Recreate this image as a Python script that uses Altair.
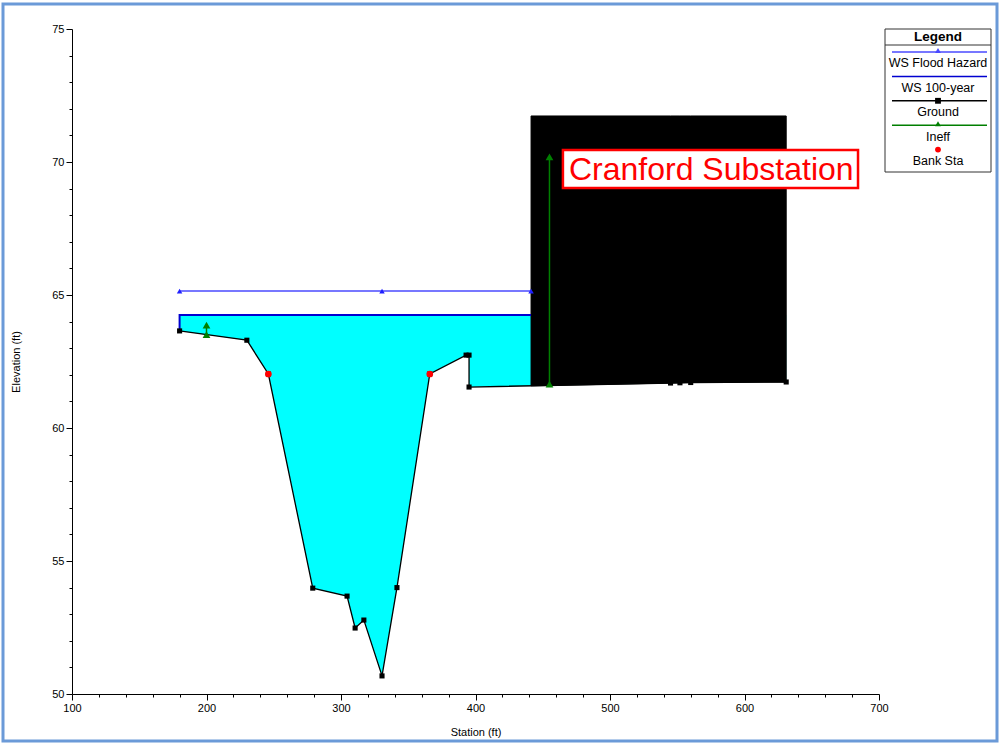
import altair as alt
import numpy as np
import pandas as pd

# ---- Cross section data (station ft, elevation ft) ----
ground_sta = [180, 230, 246, 279, 304.5, 310.5, 317, 330.5, 341.6, 366, 393, 395.2, 395.2, 545, 552, 560, 631]
ground_elev = [63.65, 63.3, 62.03, 53.98, 53.68, 52.48, 52.78, 50.68, 54.0, 62.03, 62.74, 62.74, 61.54, 61.69, 61.70, 61.71, 61.73]

bank_sta = [246, 366]
bank_elev = [62.03, 62.03]

ws100_elev = 64.25
ws100_sta = [180, 441.3]

hazard_elev = 65.15
hazard_sta = [180, 330.5, 441.3]

ineff_sta = [200, 455]
ineff_low = [63.51, 61.65]
ineff_high = [63.87, 70.19]

# blocked obstruction (substation pad)
obs_left, obs_right, obs_top = 441.3, 631, 71.73

label_text = "Cranford Substation"
label_sta, label_elev = 469.5, 69.32
label_box = dict(x=465, x2=684.4, y=69.02, y2=70.45)

legend_names = ["WS Flood Hazard", "WS 100-year", "Ground", "Ineff", "Bank Sta"]
legend_colors = ["#4a4aff", "#0000d0", "#000000", "#007f00", "#ff0000"]
legend_shapes = ["triangle-up", "", "square", "triangle-up", "circle"]
legend_has_line = [True, True, True, True, False]

FONT = "Liberation Sans"
W, H = 807, 665
LEFT, TOP = 72, 29

xscale = alt.Scale(domain=[100, 700], nice=False, zero=False)
yscale = alt.Scale(domain=[50, 75], nice=False, zero=False)

xaxis = alt.Axis(
    title="Station (ft)", values=list(range(100, 701, 20)),
    labelExpr="datum.value % 100 === 0 ? datum.label : ''",
    tickSize={"condition": {"test": "datum.value % 100 === 0", "value": 6}, "value": 3},
    grid=False, labelPadding=2, titlePadding=13, labelFlush=False,
)
yaxis = alt.Axis(
    title="Elevation (ft)", values=list(range(50, 76, 1)),
    labelExpr="datum.value % 5 === 0 ? datum.label : ''",
    tickSize={"condition": {"test": "datum.value % 5 === 0", "value": 6}, "value": 3},
    grid=False, labelPadding=2, titlePadding=30, labelFlush=False,
)

X = lambda f="station": alt.X(f"{f}:Q", scale=xscale, axis=xaxis)
Y = lambda f="elev": alt.Y(f"{f}:Q", scale=yscale, axis=yaxis)

ground = pd.DataFrame({"station": ground_sta, "elev": ground_elev, "i": range(len(ground_sta))})

# water between ground and 100-year WS; the obstruction is painted over it
water = ground.assign(top=ws100_elev)
water_layer = alt.Chart(water).mark_area(color="#00ffff", opacity=1, interpolate="linear").encode(
    x=X(), y=Y(), y2="top:Q")

# obstruction outline follows the ground underneath it
gs = np.array(ground_sta, dtype=float)
ge = np.array(ground_elev, dtype=float)
obs_x = [obs_left] + [s for s in ground_sta if obs_left < s <= obs_right]
obs_base = [float(np.interp(obs_left, gs[12:], ge[12:]))] + [e for s, e in zip(ground_sta, ground_elev) if obs_left < s <= obs_right]
obs = pd.DataFrame({"station": obs_x, "elev": obs_base, "top": obs_top})
obs_layer = alt.Chart(obs).mark_area(color="#000000", stroke="#000000", strokeWidth=1, opacity=1).encode(
    x=X(), y=Y(), y2="top:Q")

hazard = pd.DataFrame({"station": hazard_sta, "elev": hazard_elev})
hazard_line = alt.Chart(hazard).mark_line(color="#4a4aff", strokeWidth=1.5).encode(x=X(), y=Y())
hazard_pts = alt.Chart(hazard).mark_point(shape="triangle-up", filled=True, size=30, color="#2020ff", opacity=1).encode(x=X(), y=Y())

ws100 = pd.DataFrame({"station": [ws100_sta[0]] + ws100_sta, "elev": [ground_elev[0], ws100_elev, ws100_elev], "i": [0, 1, 2]})
ws100_line = alt.Chart(ws100).mark_line(color="#0000d0", strokeWidth=2).encode(x=X(), y=Y(), order="i:Q")

ground_line = alt.Chart(ground).mark_line(color="#000000", strokeWidth=1.3).encode(x=X(), y=Y(), order="i:Q")
ground_pts = alt.Chart(ground).mark_point(shape="square", filled=True, size=26, color="#000000", opacity=1).encode(x=X(), y=Y())

bank = pd.DataFrame({"station": bank_sta, "elev": bank_elev})
bank_pts = alt.Chart(bank).mark_point(shape="circle", filled=True, size=45, color="#ff0000", opacity=1).encode(x=X(), y=Y())

ineff = pd.DataFrame({"station": ineff_sta, "elev": ineff_low, "high": ineff_high})
ineff_rule = alt.Chart(ineff).mark_rule(color="#007f00", strokeWidth=1.5).encode(x=X(), y=Y(), y2="high:Q")
ineff_ends = pd.DataFrame({"station": ineff_sta * 2, "elev": ineff_low + ineff_high})
ineff_pts = alt.Chart(ineff_ends).mark_point(shape="triangle-up", filled=True, size=60, color="#007f00", opacity=1).encode(x=X(), y=Y())

box = pd.DataFrame([label_box])
label_rect = alt.Chart(box).mark_rect(fill="#ffffff", stroke="#ff0000", strokeWidth=2.5).encode(
    x=alt.X("x:Q", scale=xscale, axis=xaxis), x2="x2:Q", y=alt.Y("y:Q", scale=yscale, axis=yaxis), y2="y2:Q")
label = alt.Chart(pd.DataFrame({"station": [label_sta], "elev": [label_elev], "t": [label_text]})).mark_text(
    align="left", baseline="alphabetic", font=FONT, fontSize=32, color="#ff0000").encode(x=X(), y=Y(), text="t:N")

# ---- legend panel (pixel layout, relative to plot origin) ----
lg_left, lg_right, lg_top, lg_bottom = 885 - LEFT, 991 - LEFT, 29 - TOP, 172 - TOP
lg_cx = (lg_left + lg_right) / 2
row_step = 24.4
rows = pd.DataFrame({
    "name": legend_names, "color": legend_colors, "shape": legend_shapes, "has_line": legend_has_line,
    "ly": [52 - TOP + k * row_step for k in range(5)],
})
rows["ty"] = rows["ly"] + 11.3
rows["x1"] = 892 - LEFT
rows["x2"] = 987 - LEFT
rows["cx"] = lg_cx

legend_box = alt.Chart(pd.DataFrame({"a": [lg_left], "b": [lg_right], "c": [lg_top], "d": [lg_bottom]})).mark_rect(
    fill="#ffffff", stroke="#333333", strokeWidth=1).encode(
    x=alt.X("a:Q", scale=None), x2="b:Q", y=alt.Y("c:Q", scale=None), y2="d:Q")
legend_sep = alt.Chart(pd.DataFrame({"a": [lg_left], "b": [lg_right], "c": [45 - TOP]})).mark_rule(
    color="#333333", strokeWidth=1).encode(x=alt.X("a:Q", scale=None), x2="b:Q", y=alt.Y("c:Q", scale=None))
legend_title = alt.Chart(pd.DataFrame({"cx": [lg_cx], "y": [36.5 - TOP], "t": ["Legend"]})).mark_text(
    font=FONT, fontSize=13.5, fontWeight="bold", color="#000000", baseline="middle").encode(
    x=alt.X("cx:Q", scale=None), y=alt.Y("y:Q", scale=None), text="t:N")
legend_lines = alt.Chart(rows[rows["has_line"]]).mark_rule(strokeWidth=1.5).encode(
    x=alt.X("x1:Q", scale=None), x2="x2:Q", y=alt.Y("ly:Q", scale=None),
    color=alt.Color("color:N", scale=None))
marker_rows = rows[rows["shape"] != ""].copy()
marker_rows["my"] = marker_rows["ly"] - np.where(marker_rows["shape"] == "triangle-up", 1.5, 0)
legend_marks = alt.Chart(marker_rows).mark_point(filled=True, size=34, opacity=1).encode(
    x=alt.X("cx:Q", scale=None), y=alt.Y("my:Q", scale=None),
    color=alt.Color("color:N", scale=None), shape=alt.Shape("shape:N", scale=None))
legend_text = alt.Chart(rows).mark_text(font=FONT, fontSize=12.5, color="#000000", baseline="middle").encode(
    x=alt.X("cx:Q", scale=None), y=alt.Y("ty:Q", scale=None), text="name:N")

# window frame
frame = alt.Chart(pd.DataFrame({"a": [3 - LEFT], "b": [997 - LEFT], "c": [4 - TOP], "d": [741 - TOP]})).mark_rect(
    fill=None, stroke="#6b9ad8", strokeWidth=3).encode(
    x=alt.X("a:Q", scale=None), x2="b:Q", y=alt.Y("c:Q", scale=None), y2="d:Q")

chart = alt.layer(
    water_layer, obs_layer, hazard_line, ws100_line, ground_line, ground_pts, bank_pts,
    hazard_pts, ineff_rule, ineff_pts, label_rect, label,
    legend_box, legend_sep, legend_title, legend_lines, legend_marks, legend_text, frame,
).properties(
    width=W, height=H,
    padding={"left": LEFT, "top": TOP, "right": 999 - LEFT - W, "bottom": 745 - TOP - H},
    autosize=alt.AutoSizeParams(type="none"),
    background="#ffffff",
).configure_view(stroke=None).configure_axis(
    domainColor="#000000", tickColor="#000000", labelColor="#000000", titleColor="#000000",
    labelFont=FONT, titleFont=FONT, labelFontSize=11, titleFontSize=11, titleFontWeight="normal",
    domainWidth=1, tickWidth=1,
)

chart.save("out.html", embed_options={"renderer": "svg", "actions": False})
